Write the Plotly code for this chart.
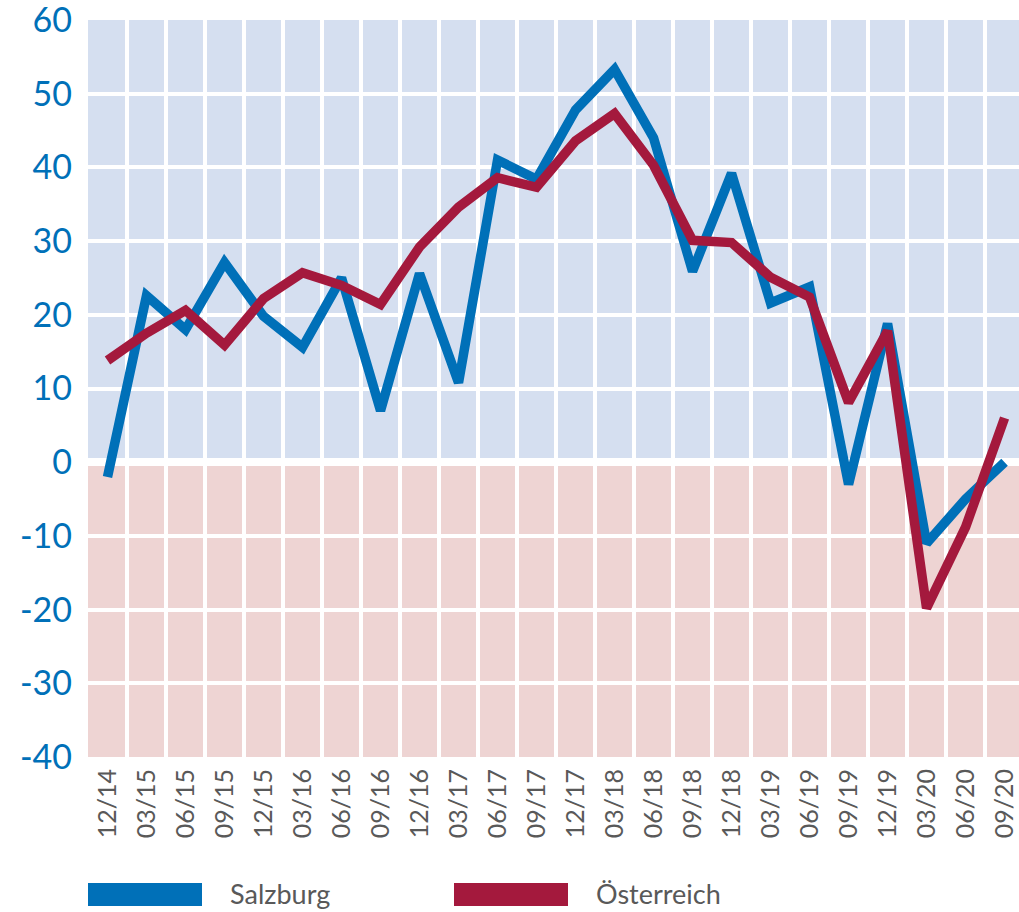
import plotly.graph_objects as go

categories = ["12/14", "03/15", "06/15", "09/15", "12/15", "03/16", "06/16", "09/16",
              "12/16", "03/17", "06/17", "09/17", "12/17", "03/18", "06/18", "09/18",
              "12/18", "03/19", "06/19", "09/19", "12/19", "03/20", "06/20", "09/20"]
salzburg = [-2.0, 22.6, 18.0, 27.1, 19.8, 15.6, 25.0, 7.0,
            25.6, 10.8, 41.0, 38.4, 47.8, 53.3, 44.0, 25.9,
            39.2, 21.6, 23.8, -3.0, 18.8, -11.0, -5.0, 0.0]
oesterreich = [13.8, 17.5, 20.6, 15.9, 22.2, 25.7, 24.0, 21.4,
               29.2, 34.6, 38.6, 37.3, 43.6, 47.3, 40.3, 30.1,
               29.8, 25.1, 22.4, 8.1, 17.8, -19.8, -8.8, 6.0]
series_names = ["Salzburg", "Österreich"]
y_tickvals = [60, 50, 40, 30, 20, 10, 0, -10, -20, -30, -40]
y_ticktext = ["60", "50", "40", "30", "20", "10", "0", "-10", "-20", "-30", "-40"]

BLUE = "#0070b8"
RED = "#a4193d"
GREY = "#595959"
BG_POS = "#d5dff0"
BG_NEG = "#eed4d3"

W, H = 1019, 912
ML, MR, MT, MB = 88, 0, 20, 155
plot_w = W - ML - MR
plot_h = H - MT - MB

fig = go.Figure()
fig.add_trace(go.Scatter(x=categories, y=salzburg, mode="lines", name=series_names[0],
                         line=dict(color=BLUE, width=9.5), showlegend=False))
fig.add_trace(go.Scatter(x=categories, y=oesterreich, mode="lines", name=series_names[1],
                         line=dict(color=RED, width=9.5), showlegend=False))

# background bands
fig.add_shape(type="rect", xref="paper", yref="y", x0=0, x1=1, y0=0, y1=60,
              fillcolor=BG_POS, line_width=0, layer="below")
fig.add_shape(type="rect", xref="paper", yref="y", x0=0, x1=1, y0=-40, y1=0,
              fillcolor=BG_NEG, line_width=0, layer="below")

# custom legend
def px_to_paper_x(px):
    return (px - ML) / plot_w

def py_to_paper_y(py):
    return (MT + plot_h - py) / plot_h

legend_items = [(series_names[0], BLUE, 88, 202, 228), (series_names[1], RED, 454, 568, 594)]
for name, color, sx0, sx1, tx in legend_items:
    fig.add_shape(type="rect", xref="paper", yref="paper",
                  x0=px_to_paper_x(sx0), x1=px_to_paper_x(sx1),
                  y0=py_to_paper_y(906), y1=py_to_paper_y(883),
                  fillcolor=color, line_width=0)
    fig.add_annotation(xref="paper", yref="paper", x=px_to_paper_x(tx), y=py_to_paper_y(893),
                       text=name, showarrow=False, xanchor="left", yanchor="middle",
                       font=dict(family="Lato", size=27, color=GREY))

fig.update_layout(
    width=W, height=H,
    margin=dict(l=ML, r=MR, t=MT, b=MB, autoexpand=False),
    plot_bgcolor="white", paper_bgcolor="white",
    font=dict(family="Lato"),
    showlegend=False,
)
fig.update_xaxes(
    type="category", range=[-0.5, 23.37], tickson="boundaries",
    showgrid=True, gridcolor="white", gridwidth=4,
    showline=False, zeroline=False, ticks="", tickangle=-90,
    tickfont=dict(family="Lato", size=25, color=GREY),
    ticklabelstandoff=6, ticklabeloverflow="allow", automargin=False, fixedrange=True,
)
fig.update_yaxes(
    range=[-40, 60], tickvals=y_tickvals, ticktext=y_ticktext,
    showgrid=True, gridcolor="white", gridwidth=4,
    zeroline=True, zerolinecolor="white", zerolinewidth=8,
    showline=False, ticks="",
    tickfont=dict(family="Lato", size=34, color=BLUE),
    ticklabelstandoff=15, ticklabeloverflow="allow", automargin=False, fixedrange=True,
)

fig.write_html("out.html", config={"displayModeBar": False},
               post_script="document.body.style.margin='0';document.body.style.overflow='hidden';")
